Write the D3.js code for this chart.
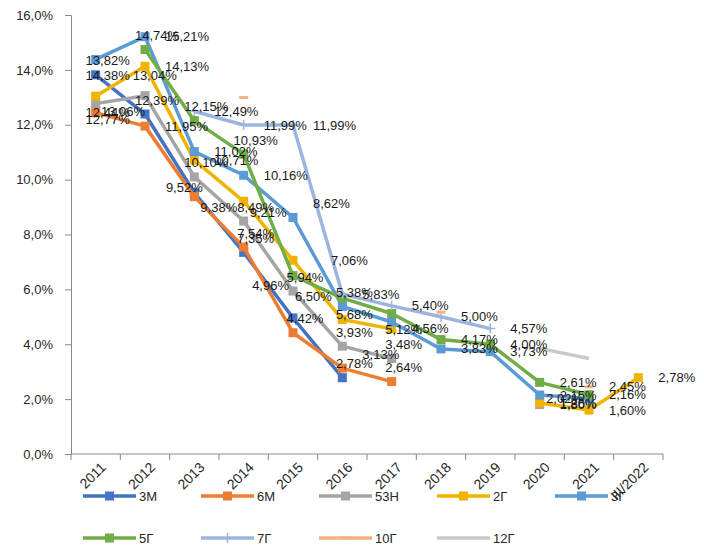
<!DOCTYPE html>
<html>
<head>
<meta charset="utf-8">
<script src="https://cdn.jsdelivr.net/npm/d3@7/dist/d3.min.js"></script>
<style>
body{margin:0;background:#fff;}
#canvas{width:704px;height:559px;}
svg text{font-family:"Liberation Sans",Arial,sans-serif;}
</style>
</head>
<body>
<div id="canvas" class="canvas"></div>
<script>
// categories and tick values
var years = ['2011','2012','2013','2014','2015','2016','2017','2018','2019','2020','2021','III/2022'];
var yTicks = [0,2,4,6,8,10,12,14,16];

// yields in %, null = no value that year
var s3M  = [13.82, 12.39, 9.52, 7.35, 4.96, 2.78, null, null, null, null, null, null];
var s6M  = [12.44, 11.95, 9.38, 7.54, 4.42, 3.13, 2.64, null, null, null, null, null];
var s53H = [12.77, 13.06, 10.10, 8.49, 5.94, 3.93, 3.48, null, null, 1.80, null, null];
var s2G  = [13.04, 14.13, 10.71, 9.21, 7.06, 4.90, 4.56, null, null, 1.86, 1.60, 2.78];
var s3G  = [14.38, 15.21, 11.02, 10.16, 8.62, 5.38, 4.81, 3.83, 3.73, 2.15, 2.02, null];
var s5G  = [null, 14.74, 12.15, 10.93, 6.50, 5.68, 5.12, 4.17, 4.00, 2.61, 2.16, null];
var s7G  = [null, null, 12.49, 11.99, 11.99, 5.83, 5.40, 5.00, 4.57, null, null, null];
var s10G = [null, null, null, 12.99, null, null, null, 5.17, null, null, 2.45, null];
var s12G = [null, null, null, null, null, null, null, null, null, 3.85, 3.48, null];

var seriesNames = ['3М','6М','53Н','2Г','3Г','5Г','7Г','10Г','12Г'];
var seriesVals = [s3M, s6M, s53H, s2G, s3G, s5G, s7G, s10G, s12G];

// styles
var colors = ['#4472C4','#ED7D31','#A5A5A5','#F0B400','#5B9BD5','#70AD47','#9EB4E0','#F4B183','#C9C9C9'];
var markers = ['square','square','square','square','square','square','plus','dash','none'];
// where each data label sits relative to its point
var labelPos = [
  'a a cl a al a',
  'c r br a a ar a',
  'b bl a a a a a - - r - -',
  'arr r r br rr n r - - r r r',
  'b r r r ar a n r r r l -',
  '- a a a bx b b r r r r -',
  '- - r r r r r r r - - -',
  '- - - n - - - n - - r -',
  'n n n n n n n n n n n n'
];
var posStyle = {
  r:{a:'start',dx:20,dy:0}, rr:{a:'start',dx:38,dy:0}, l:{a:'end',dx:-6,dy:0},
  c:{a:'middle',dx:12,dy:0}, cl:{a:'middle',dx:-10,dy:-5},
  a:{a:'middle',dx:12,dy:-14}, ar:{a:'start',dx:20,dy:-14}, arr:{a:'start',dx:37,dy:-21},
  al:{a:'end',dx:-4,dy:-32},
  b:{a:'middle',dx:12,dy:16}, br:{a:'start',dx:6,dy:11}, bx:{a:'start',dx:2,dy:21},
  bl:{a:'end',dx:0,dy:16}
};

var m = {t:15,r:41,b:105,l:71};
var outerWidth = 704, outerHeight = 559;
var w = outerWidth - m.l - m.r,
    h = outerHeight - m.t - m.b;

var svg = d3.select('.canvas')
    .append('svg')
    .attr('width',outerWidth)
    .attr('height',outerHeight);
var plot = svg.append('g')
    .attr('transform','translate(' + m.l + ',' + m.t + ')');

var scaleX = d3.scaleBand().domain(years).range([0,w]);
var scaleY = d3.scaleLinear().domain([0,16]).range([h,0]);
var cx = function(i){ return scaleX(years[i]) + scaleX.bandwidth()/2; };

var fmtPct = function(v){ return v.toFixed(2).replace('.',',') + '%'; };

// y axis
var axisY = d3.axisLeft(scaleY)
    .tickValues(yTicks)
    .tickSize(6)
    .tickPadding(12)
    .tickFormat(function(d){ return d.toFixed(1).replace('.',',') + '%'; });
var gy = plot.append('g').attr('class','axis axis-y').call(axisY);
gy.select('.domain').attr('stroke','#898989');
gy.selectAll('.tick line').attr('stroke','#898989');
gy.selectAll('.tick text').attr('fill','#262626').style('font-size','13px');

// x axis: line, boundary ticks, rotated labels
var gx = plot.append('g').attr('class','axis axis-x').attr('transform','translate(0,' + h + ')');
gx.append('line').attr('x1',0).attr('x2',w).attr('stroke','#898989');
gx.selectAll('.bt')
    .data(d3.range(years.length + 1))
    .enter().append('line')
    .attr('class','bt')
    .attr('x1',function(d){ return d * scaleX.bandwidth(); })
    .attr('x2',function(d){ return d * scaleX.bandwidth(); })
    .attr('y1',0).attr('y2',6)
    .attr('stroke','#898989');
gx.selectAll('.xl')
    .data(years)
    .enter().append('text')
    .attr('class','xl')
    .attr('transform',function(d,i){ return 'translate(' + (cx(i) + 4) + ',7) rotate(-45)'; })
    .attr('text-anchor','end')
    .attr('dy','0.72em')
    .attr('fill','#262626')
    .style('font-size','14px')
    .text(function(d){ return d; });

// build series
var series = seriesNames.map(function(name,k){
    var codes = labelPos[k].split(' ');
    return {
        name: name, color: colors[k], marker: markers[k],
        pts: seriesVals[k].map(function(v,i){ return {i:i, v:v, pos:codes[i] || 'n'}; })
    };
});

var line = d3.line()
    .defined(function(d){ return d.v != null; })
    .x(function(d){ return cx(d.i); })
    .y(function(d){ return scaleY(d.v); });

function drawMarker(g, type, color){
    if(type === 'square'){
        g.append('rect').attr('x',-4.5).attr('y',-4.5).attr('width',9).attr('height',9).attr('fill',color);
    } else if(type === 'plus'){
        g.append('path').attr('d','M-5,0H5M0,-5V5').attr('stroke',color).attr('stroke-width',1.5);
    } else if(type === 'dash'){
        g.append('rect').attr('x',-4.5).attr('y',-1.5).attr('width',9).attr('height',3).attr('fill',color);
    }
}

var sg = plot.selectAll('.series')
    .data(series)
    .enter().append('g')
    .attr('class','series');

sg.append('path')
    .attr('d',function(d){ return line(d.pts); })
    .attr('fill','none')
    .attr('stroke',function(d){ return d.color; })
    .attr('stroke-width',3.5)
    .attr('stroke-linejoin','round');

sg.each(function(s){
    var g = d3.select(this);
    s.pts.filter(function(p){ return p.v != null; }).forEach(function(p){
        var mk = g.append('g').attr('transform','translate(' + cx(p.i) + ',' + scaleY(p.v) + ')');
        drawMarker(mk, s.marker, s.color);
    });
});

// data labels on top
var labels = [];
series.forEach(function(s){
    s.pts.forEach(function(p){
        if(p.v != null && posStyle[p.pos]) labels.push(p);
    });
});
plot.selectAll('.dl')
    .data(labels)
    .enter().append('text')
    .attr('class','dl')
    .attr('x',function(d){ return cx(d.i) + posStyle[d.pos].dx; })
    .attr('y',function(d){ return scaleY(d.v) + posStyle[d.pos].dy; })
    .attr('dy','0.35em')
    .attr('text-anchor',function(d){ return posStyle[d.pos].a; })
    .attr('fill','#1a1a1a')
    .style('font-size','13px')
    .text(function(d){ return fmtPct(d.v); });

// legend, two rows of five
var leg = svg.append('g').attr('class','legend');
var li = leg.selectAll('.li')
    .data(series)
    .enter().append('g')
    .attr('class','li')
    .attr('transform',function(d,k){ return 'translate(' + (83 + (k % 5) * 118) + ',' + (k < 5 ? 496 : 538) + ')'; });
li.append('line')
    .attr('x1',0).attr('x2',53)
    .attr('stroke',function(d){ return d.color; })
    .attr('stroke-width',3.5);
li.each(function(d){
    var mk = d3.select(this).append('g').attr('transform','translate(26.5,0)');
    drawMarker(mk, d.marker, d.color);
});
li.append('text')
    .attr('x',56).attr('dy','0.35em')
    .attr('fill','#262626')
    .style('font-size','13px')
    .text(function(d){ return d.name; });
</script>
</body>
</html>
